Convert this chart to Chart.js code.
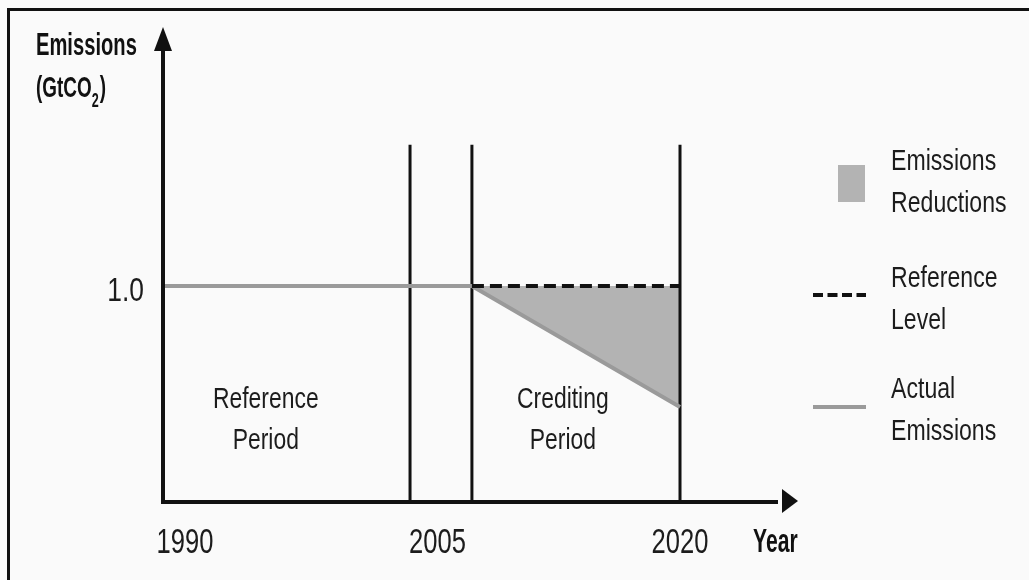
<!DOCTYPE html>
<html>
<head>
<meta charset="utf-8">
<script src="https://cdn.jsdelivr.net/npm/chart.js@4.4.1/dist/chart.umd.min.js"></script>
<style>
  html, body { margin: 0; padding: 0; background: #fafafa; }
  #wrap { position: relative; width: 1029px; height: 580px; overflow: hidden; }
  #frame { position: absolute; left: 7px; top: 8px; right: -10px; bottom: -10px;
           border-top: 3px solid #111; border-left: 3px solid #111; }
  #chart { position: absolute; left: 0; top: 0; }
</style>
</head>
<body>
<div id="wrap">
  <div id="frame"></div>
  <canvas id="chart" width="1029" height="580"></canvas>
</div>
<script>
// ---- data ----
const xTickValues = [1990, 2005, 2020];
const xTickLabels = ['1990', '2005', '2020'];
const yTickValues = [1.0];
const yTickLabels = ['1.0'];

// actual emissions: flat until the crediting period starts, then falls
const actualYears = [1988.67, 2007.39, 2020];
const actualValues = [1.0, 1.0, 0.435];

// reference level over the crediting period
const refYears = [2007.39, 2020];
const refValues = [1.0, 1.0];

// period boundaries (vertical lines) and their height
const dividerYears = [2003.64, 2007.39, 2020];
const dividerTop = 1.66;

const legendLabels = [['Emissions', 'Reductions'], ['Reference', 'Level'], ['Actual', 'Emissions']];

const COLORS = {
    ink: '#111111',
    text: '#1c1c1c',
    line: '#9a9a9a',
    fill: '#b3b3b3'
};
const FONT = '"Liberation Sans", Arial, sans-serif';

function toPoints(xs, ys) {
    return xs.map((x, i) => ({ x, y: ys[i] }));
}

// condensed-looking text: squeeze horizontally
function drawText(ctx, s, x, y, size, opts = {}) {
    ctx.save();
    ctx.font = `${opts.bold ? 'bold ' : ''}${size}px ${FONT}`;
    ctx.fillStyle = opts.color || COLORS.text;
    ctx.textAlign = opts.align || 'left';
    ctx.textBaseline = 'alphabetic';
    ctx.translate(x, y);
    ctx.scale(opts.sx || 0.75, 1);
    ctx.fillText(s, 0, 0);
    const w = ctx.measureText(s).width * (opts.sx || 0.75);
    ctx.restore();
    return w;
}

const diagramPlugin = {
    id: 'diagram',
    afterDraw(chart) {
        const { ctx, chartArea: a, scales } = chart;
        const xs = scales.x, ys = scales.y;

        // axes with arrow heads
        ctx.save();
        ctx.strokeStyle = COLORS.ink;
        ctx.fillStyle = COLORS.ink;
        ctx.lineWidth = 4;
        ctx.lineCap = 'butt';
        ctx.beginPath();
        ctx.moveTo(a.left, a.top + 20);
        ctx.lineTo(a.left, a.bottom + 2);
        ctx.lineTo(a.right - 20, a.bottom + 2);
        ctx.stroke();
        ctx.beginPath();
        ctx.moveTo(a.left, a.top);
        ctx.lineTo(a.left + 9, a.top + 24);
        ctx.lineTo(a.left - 9, a.top + 24);
        ctx.closePath();
        ctx.fill();
        ctx.beginPath();
        ctx.moveTo(a.right, a.bottom + 1);
        ctx.lineTo(a.right - 16, a.bottom - 11);
        ctx.lineTo(a.right - 16, a.bottom + 13);
        ctx.closePath();
        ctx.fill();
        ctx.restore();

        // tick labels
        xTickValues.forEach((v, i) => {
            drawText(ctx, xTickLabels[i], xs.getPixelForValue(v) + (i === 1 ? 5 : 0), a.bottom + 53, 35, { align: 'center', sx: 0.73 });
        });
        yTickValues.forEach((v, i) => {
            drawText(ctx, yTickLabels[i], a.left - 19, ys.getPixelForValue(v) + 15, 33, { align: 'right', sx: 0.8 });
        });

        // axis titles
        drawText(ctx, 'Year', a.right - 45, a.bottom + 52, 33, { bold: true, sx: 0.64, color: COLORS.ink });
        drawText(ctx, 'Emissions', 36, 55, 32, { bold: true, sx: 0.63, color: COLORS.ink });
        let w = drawText(ctx, '(GtCO', 36, 97, 30, { bold: true, sx: 0.63, color: COLORS.ink });
        const w2 = drawText(ctx, '2', 36 + w, 107, 20, { bold: true, sx: 0.63, color: COLORS.ink });
        drawText(ctx, ')', 36 + w + w2 + 1, 97, 30, { bold: true, sx: 0.63, color: COLORS.ink });

        // period notes
        const notes = [
            { lines: ['Reference', 'Period'], x: 1994.9, y: 0.43 },
            { lines: ['Crediting', 'Period'], x: 2012.9, y: 0.43 }
        ];
        notes.forEach(n => {
            const px = xs.getPixelForValue(n.x), py = ys.getPixelForValue(n.y);
            n.lines.forEach((s, i) => drawText(ctx, s, px, py + i * 41, 29, { align: 'center', sx: 0.79 }));
        });

        // legend
        const lx = 891;
        const rows = [170, 287, 398];
        ctx.save();
        ctx.fillStyle = COLORS.fill;
        ctx.fillRect(838, 165, 27, 37);
        ctx.strokeStyle = COLORS.ink;
        ctx.lineWidth = 4;
        ctx.setLineDash([10, 4.5]);
        ctx.beginPath();
        ctx.moveTo(813, 295);
        ctx.lineTo(866, 295);
        ctx.stroke();
        ctx.setLineDash([]);
        ctx.strokeStyle = COLORS.line;
        ctx.beginPath();
        ctx.moveTo(813, 407);
        ctx.lineTo(866, 407);
        ctx.stroke();
        ctx.restore();
        legendLabels.forEach((lines, r) => {
            lines.forEach((s, i) => drawText(ctx, s, lx, rows[r] + i * 42, 30, { sx: 0.77 }));
        });
    }
};

const dividerSets = dividerYears.map(yr => ({
    data: toPoints([yr, yr], [0, dividerTop]),
    borderColor: COLORS.ink,
    borderWidth: 3,
    order: 3
}));

new Chart(document.getElementById('chart'), {
    type: 'scatter',
    data: {
        datasets: [
            {
                label: 'Actual Emissions',
                data: toPoints(actualYears, actualValues),
                borderColor: COLORS.line,
                borderWidth: 4,
                order: 1
            },
            {
                label: 'Reference Level',
                data: toPoints(refYears, refValues),
                borderColor: COLORS.ink,
                borderWidth: 4,
                borderDash: [12, 6],
                backgroundColor: COLORS.fill,
                fill: 0,
                order: 0
            },
            ...dividerSets
        ]
    },
    options: {
        responsive: false,
        animation: false,
        events: [],
        showLine: true,
        elements: { point: { radius: 0 }, line: { tension: 0 } },
        layout: { padding: { left: 163, right: 231, top: 27, bottom: 80 } },
        scales: {
            x: { type: 'linear', display: false, min: 1988.67, max: 2027.15 },
            y: { type: 'linear', display: false, min: 0, max: 2.21 }
        },
        plugins: {
            legend: { display: false },
            tooltip: { enabled: false },
            filler: { drawTime: 'beforeDatasetsDraw' }
        }
    },
    plugins: [diagramPlugin]
});
</script>
</body>
</html>
